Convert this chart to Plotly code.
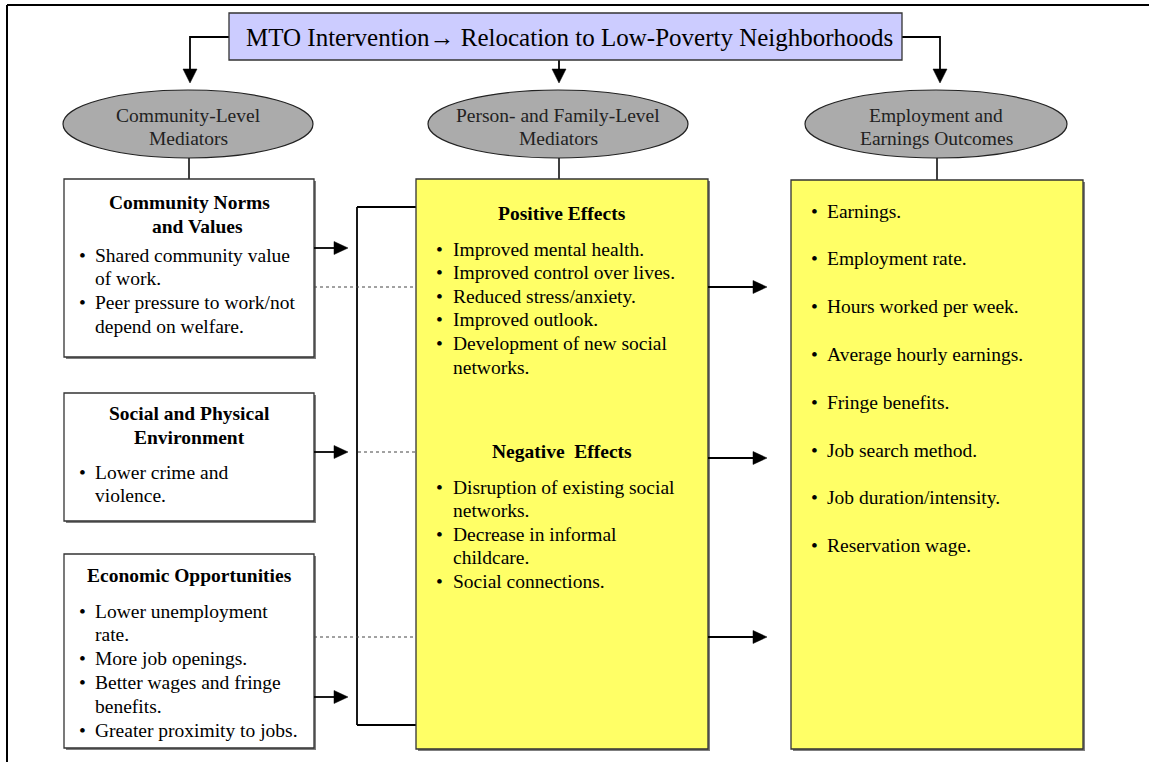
import plotly.graph_objects as go

# ---------------- data (texts) ----------------
title_text = "MTO Intervention\u2192 Relocation to Low-Poverty Neighborhoods"
ellipse_labels = [
    ["Community-Level", "Mediators"],
    ["Person- and Family-Level", "Mediators"],
    ["Employment and", "Earnings Outcomes"],
]
community_heading = ["Community Norms", "and Values"]
community_items = [["Shared community value", "of work."],
                   ["Peer pressure to work/not", "depend on welfare."]]
social_heading = ["Social and Physical", "Environment"]
social_items = [["Lower crime and", "violence."]]
economic_heading = ["Economic Opportunities"]
economic_items = [["Lower unemployment", "rate."],
                  ["More job openings."],
                  ["Better wages and fringe", "benefits."],
                  ["Greater proximity to jobs."]]
positive_heading = "Positive Effects"
positive_items = [["Improved mental health."],
                  ["Improved control over lives."],
                  ["Reduced stress/anxiety."],
                  ["Improved outlook."],
                  ["Development of new social", "networks."]]
negative_heading = "Negative  Effects"
negative_items = [["Disruption of existing social", "networks."],
                  ["Decrease in informal", "childcare."],
                  ["Social connections."]]
outcome_items = ["Earnings.", "Employment rate.", "Hours worked per week.",
                 "Average hourly earnings.", "Fringe benefits.", "Job search method.",
                 "Job duration/intensity.", "Reservation wage."]

# ---------------- layout helpers ----------------
W, H = 1149, 762
FONT = "Liberation Serif, Times New Roman, serif"
FS = 19.5
shapes = []
annotations = []


def rect(x0, y0, x1, y1, fill, line="#333333", lw=1.3, shadow=True):
    if shadow:
        shapes.append(dict(type="rect", x0=x0 + 2, y0=y0 + 2, x1=x1 + 2, y1=y1 + 2,
                           fillcolor="#7f7f7f", line=dict(width=0), layer="above"))
    shapes.append(dict(type="rect", x0=x0, y0=y0, x1=x1, y1=y1, fillcolor=fill,
                       line=dict(color=line, width=lw), layer="above"))


def line(x0, y0, x1, y1, color="black", width=1.8, dash="solid"):
    shapes.append(dict(type="line", x0=x0, y0=y0, x1=x1, y1=y1,
                       line=dict(color=color, width=width, dash=dash), layer="above"))


def path(pts, color="black"):
    d = "M " + " L ".join(f"{x},{y}" for x, y in pts) + " Z"
    shapes.append(dict(type="path", path=d, fillcolor=color,
                       line=dict(color=color, width=0.5), layer="above"))


def arrow_right(x0, x1, y):
    line(x0, y, x1 - 12, y)
    path([(x1 - 14, y - 6.5), (x1, y), (x1 - 14, y + 6.5)])


def arrow_down(x, y0, y1):
    line(x, y0, x, y1 - 12)
    path([(x - 7, y1 - 14), (x, y1), (x + 7, y1 - 14)])


def text(x, y, s, size=FS, bold=False, anchor="left", color="black"):
    if bold:
        s = "<b>" + s + "</b>"
    if anchor == "left":
        x -= 2
    annotations.append(dict(x=x, y=y, text=s, showarrow=False, xanchor=anchor,
                            yanchor="middle", font=dict(family=FONT, size=size, color=color)))


def bullets(items, xb, xt, y0, dy):
    y = y0
    for item in items:
        text(xb, y, "\u2022", anchor="center")
        for ln in item:
            text(xt, y, ln)
            y += dy
    return y


# ---------------- outer frame ----------------
line(7, 5, W + 5, 5, width=2)
line(7, 5, 7, H + 5, width=2)

# ---------------- title box & arrows ----------------
line(229, 37, 190, 37)
arrow_down(190, 36, 83)
line(902, 37, 940, 37)
arrow_down(940, 36, 83)
arrow_down(559, 60, 83)
rect(229, 13, 902, 60, "#CCCCFF", shadow=False)
text(569, 37, title_text, size=25, anchor="center")

# ---------------- ellipses ----------------
ell_centers = [188, 558, 936]
ell_rx = [125, 130, 131]
for cx, rx, labels in zip(ell_centers, ell_rx, ellipse_labels):
    line(cx + 1, 150, cx + 1, 180, width=1.5)
    shapes.append(dict(type="circle", x0=cx - rx, y0=90, x1=cx + rx, y1=158,
                       fillcolor="#ABABAB", line=dict(color="#222222", width=1.2),
                       layer="above"))
    text(cx, 115, labels[0], anchor="center", color="#222222")
    text(cx, 138, labels[1], anchor="center", color="#222222")

# ---------------- left boxes ----------------
rect(64, 179, 314, 357, "white")
text(189, 202, community_heading[0], bold=True, anchor="center")
text(197, 226, community_heading[1], bold=True, anchor="center")
bullets(community_items, 82, 95, 255, 23.7)

rect(64, 393, 314, 521, "white")
text(189, 413, social_heading[0], bold=True, anchor="center")
text(189, 437, social_heading[1], bold=True, anchor="center")
bullets(social_items, 82, 95, 472, 23.7)

rect(64, 554, 314, 748, "white")
text(189, 575, economic_heading[0], bold=True, anchor="center")
bullets(economic_items, 82, 95, 611, 23.8)

# ---------------- bracket & connectors ----------------
line(357, 207, 357, 725)
line(357, 207, 416, 207)
line(357, 725, 416, 725)
arrow_right(314, 348, 248)
arrow_right(314, 348, 452)
arrow_right(314, 348, 697)
line(314, 287, 416, 287, color="#444444", width=1, dash="dot")
line(358, 452, 416, 452, color="#444444", width=1, dash="dot")
line(314, 637, 416, 637, color="#444444", width=1, dash="dot")

# ---------------- middle box ----------------
rect(416, 179, 708, 749, "#FFFF66")
text(562, 213, positive_heading, bold=True, anchor="center")
bullets(positive_items, 439, 453, 249, 23.6)
text(562, 451, negative_heading, bold=True, anchor="center")
bullets(negative_items, 439, 453, 487, 23.5)

# ---------------- right arrows ----------------
arrow_right(708, 767, 287)
arrow_right(708, 767, 458)
arrow_right(708, 767, 637)

# ---------------- right box ----------------
rect(791, 180, 1083, 749, "#FFFF66")
for i, s in enumerate(outcome_items):
    y = 211 + i * 47.8
    text(814, y, "\u2022", anchor="center")
    text(827, y, s)

fig = go.Figure()
fig.update_layout(
    width=W, height=H, autosize=False,
    margin=dict(l=0, r=0, t=0, b=0),
    paper_bgcolor="white", plot_bgcolor="white",
    xaxis=dict(range=[0, W], visible=False, fixedrange=True),
    yaxis=dict(range=[H, 0], visible=False, fixedrange=True),
    shapes=shapes, annotations=annotations, showlegend=False,
)
fig.write_html("out.html", config={"displayModeBar": False},
               post_script="document.body.style.margin='0';document.body.style.overflow='hidden';")
